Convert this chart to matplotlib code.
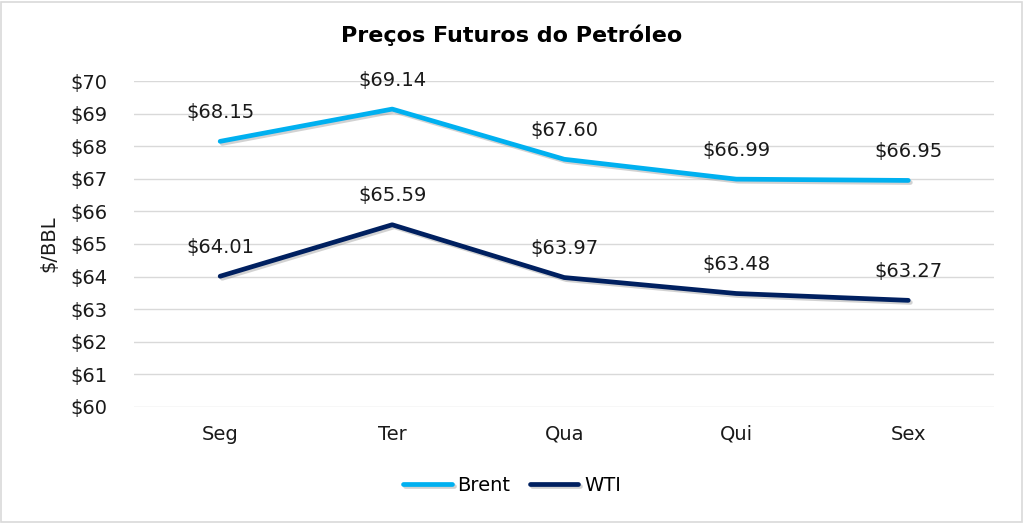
import matplotlib
matplotlib.use("Agg")
import matplotlib.pyplot as plt
import matplotlib.patheffects as pe
from matplotlib.patches import Rectangle

days = ["Seg", "Ter", "Qua", "Qui", "Sex"]
brent = [68.15, 69.14, 67.60, 66.99, 66.95]
wti = [64.01, 65.59, 63.97, 63.48, 63.27]
yticks = list(range(60, 71))

plt.rcParams['font.family'] = ['DejaVu Sans']
FS = 14

fig = plt.figure(figsize=(10.24, 5.23), dpi=100)
ax = fig.add_axes([0.131, 0.222, 0.840, 0.623])

x = list(range(len(days)))
shadow = [pe.SimpleLineShadow(offset=(1.5, -1.5), shadow_color='gray', alpha=0.35), pe.Normal()]
ax.plot(x, brent, color='#00B0F0', lw=3.4, label='Brent', solid_capstyle='round',
        path_effects=shadow, zorder=3)
ax.plot(x, wti, color='#002060', lw=3.4, label='WTI', solid_capstyle='round',
        path_effects=shadow, zorder=3)

for xi, v in zip(x, brent):
    ax.annotate(f"${v:.2f}", (xi, v), xytext=(0, 14), textcoords='offset points',
                ha='center', va='bottom', fontsize=FS, color='#1a1a1a')
for xi, v in zip(x, wti):
    ax.annotate(f"${v:.2f}", (xi, v), xytext=(0, 14), textcoords='offset points',
                ha='center', va='bottom', fontsize=FS, color='#1a1a1a')

ax.set_xlim(-0.5, len(days) - 0.5)
ax.set_ylim(60, 70)
ax.set_yticks(yticks)
ax.set_yticklabels([f"${t}" for t in yticks])
ax.set_xticks(x)
ax.set_xticklabels(days)
ax.tick_params(axis='both', length=0, labelsize=FS, colors='#1a1a1a')
ax.tick_params(axis='x', pad=13)
ax.tick_params(axis='y', pad=19)
ax.grid(axis='y', color='#D9D9D9', lw=1)
ax.set_axisbelow(True)
for s in ax.spines.values():
    s.set_visible(False)
ax.set_ylabel("$/BBL", fontsize=FS, color='#1a1a1a', labelpad=9)

fig.text(0.5, 0.933, "Preços Futuros do Petróleo", fontsize=16, fontweight='bold',
         color='#000000', ha='center', va='center')

leg = fig.legend(loc='center', bbox_to_anchor=(0.5, 0.072), ncol=2, frameon=False,
                 fontsize=FS, handlelength=2.5, columnspacing=1.0, handletextpad=0.3)

fig.patches.append(Rectangle((0.001, 0.002), 0.997, 0.995, transform=fig.transFigure,
                             fill=False, edgecolor='#D9D9D9', lw=1.2))

fig.savefig("out.png", dpi=100, facecolor='white')
